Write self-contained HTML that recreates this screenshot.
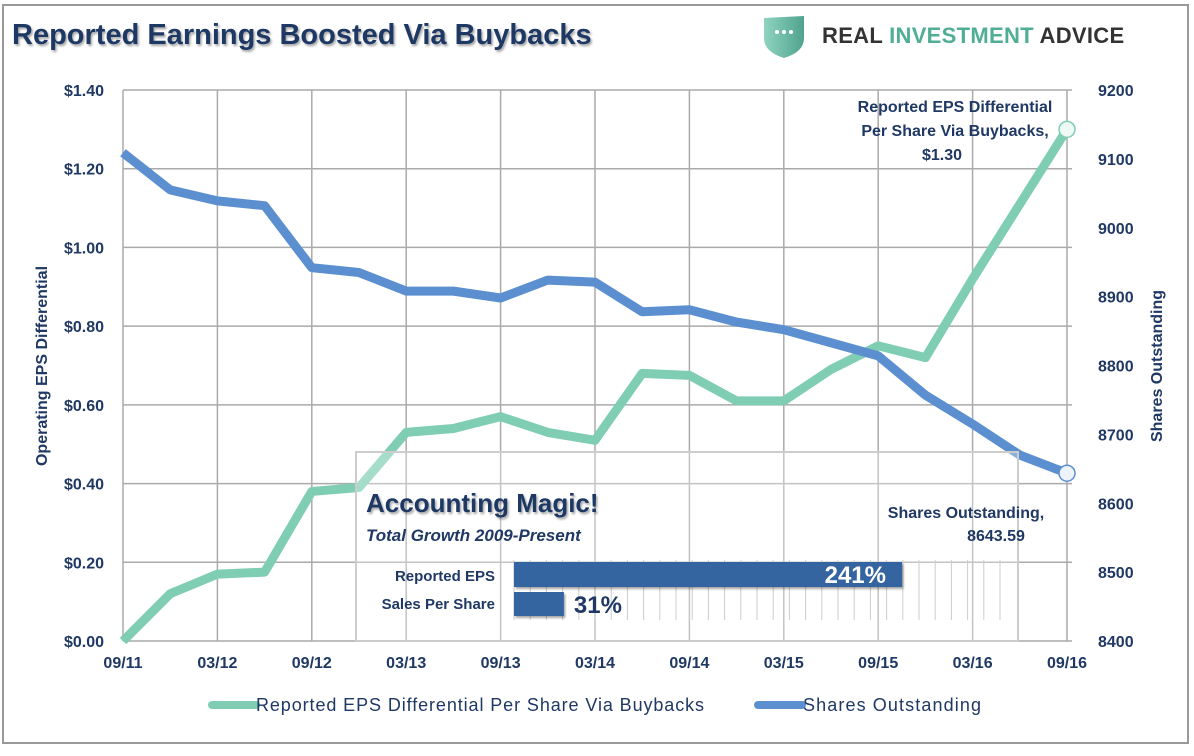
<!DOCTYPE html>
<html><head><meta charset="utf-8"><style>
body{margin:0;background:#fff;}
svg text{font-family:"Liberation Sans",sans-serif;}
</style></head><body>
<svg width="1194" height="751" xmlns="http://www.w3.org/2000/svg">
<defs>
<filter id="sh" x="-5%" y="-20%" width="110%" height="140%"><feDropShadow dx="1.5" dy="2" stdDeviation="1" flood-color="#000" flood-opacity="0.35"/></filter>
<linearGradient id="shield" x1="0" x2="1"><stop offset="0" stop-color="#8fd4c0"/><stop offset="1" stop-color="#4fa38d"/></linearGradient>
</defs>
<rect x="3" y="5" width="1185" height="738" fill="#fff" stroke="#999" stroke-width="2"/>
<text x="12" y="44" font-size="29" font-weight="bold" fill="#1f3864" filter="url(#sh)">Reported Earnings Boosted Via Buybacks</text>
<g>
<path d="M764,18 L804,16 L804,38 Q804,52 784,58 Q764,52 764,38 Z" fill="url(#shield)"/>
<circle cx="777" cy="32" r="2" fill="#fff"/><circle cx="784" cy="32" r="2" fill="#fff"/><circle cx="791" cy="32" r="2" fill="#fff"/>
<text x="822" y="43" font-size="22" font-weight="bold" fill="#333" letter-spacing="0.3">REAL <tspan fill="#4fae94">INVESTMENT</tspan> ADVICE</text>
</g>
<g id="grid"></g>
<g id="axes"></g>
<g id="series"></g>
<g>
<rect x="356" y="452" width="662" height="189" fill="#fff" fill-opacity="0.3" stroke="#ccc" stroke-width="2"/>
<g id="insetticks"></g>
<text x="366" y="512" font-size="26" font-weight="bold" fill="#1f3864" filter="url(#sh)">Accounting Magic!</text>
<text x="366" y="541" font-size="17" font-weight="bold" font-style="italic" fill="#1f3864">Total Growth 2009-Present</text>
<text x="495" y="581" font-size="15" font-weight="bold" fill="#1f3864" text-anchor="end">Reported EPS</text>
<text x="495" y="609" font-size="15" font-weight="bold" fill="#1f3864" text-anchor="end">Sales Per Share</text>
<g id="insetbars"></g>
</g>
<text x="955" y="112" font-size="16" font-weight="bold" fill="#1f3864" text-anchor="middle"><tspan x="955">Reported EPS Differential</tspan><tspan x="955" dy="24">Per Share Via Buybacks,</tspan><tspan x="942" dy="24">$1.30</tspan></text>
<text x="966" y="518" font-size="16" font-weight="bold" fill="#1f3864" text-anchor="middle"><tspan x="966">Shares Outstanding,</tspan><tspan x="996" dy="23">8643.59</tspan></text>
<g>
<line x1="212" y1="705" x2="256" y2="705" stroke="#7fcdb3" stroke-width="8" stroke-linecap="round"/>
<text x="256" y="711" font-size="18" fill="#1f3864" textLength="448">Reported EPS Differential Per Share Via Buybacks</text>
<line x1="758" y1="705" x2="802" y2="705" stroke="#5b8fd0" stroke-width="8" stroke-linecap="round"/>
<text x="803" y="711" font-size="18" fill="#1f3864" textLength="178">Shares Outstanding</text>
</g>
</svg>
<script>
const xLabels=["09/11","03/12","09/12","03/13","09/13","03/14","09/14","03/15","09/15","03/16","09/16"];
const leftTicks=[0,0.2,0.4,0.6,0.8,1.0,1.2,1.4];
const rightTicks=[8400,8500,8600,8700,8800,8900,9000,9100,9200];
const epsDiff=[0.00,0.12,0.17,0.175,0.38,0.39,0.53,0.54,0.57,0.53,0.51,0.68,0.675,0.61,0.61,0.69,0.75,0.72,0.92,1.11,1.30];
const shares=[9109,9055,9039,9032,8942,8935,8908,8908,8898,8924,8921,8878,8881,8863,8852,8833,8814,8757,8715,8670,8643.59];
const insetCats=["Reported EPS","Sales Per Share"];
const insetVals=[241,31];
const NS="http://www.w3.org/2000/svg";
const X0=123,X1=1067,YT=90,YB=641;
const n=epsDiff.length;
const xq=i=>X0+(X1-X0)*i/(n-1);
const yL=v=>YB-(YB-YT)*v/1.4;
const yR=v=>YB-(YB-YT)*(v-8400)/800;
function mk(tag,attrs,parent){const e=document.createElementNS(NS,tag);for(const k in attrs)e.setAttribute(k,attrs[k]);parent.appendChild(e);return e;}
const grid=document.getElementById('grid'),axes=document.getElementById('axes'),ser=document.getElementById('series');
leftTicks.forEach(v=>{
 const l=mk('line',{x1:X0,x2:X1+5,y1:yL(v),y2:yL(v),stroke:'#aaa','stroke-width':1.5},grid);
 
 
 const t=mk('text',{x:104,y:yL(v)+6,'font-size':16,'font-weight':'bold',fill:'#1f3864','text-anchor':'end'},axes);
 t.textContent='$'+v.toFixed(2);
 
 
});
rightTicks.forEach(v=>{
 const t=mk('text',{x:1098,y:yR(v)+6,'font-size':16,'font-weight':'bold',fill:'#1f3864'},axes);
 t.textContent=v;
 
 
});
xLabels.forEach((s,i)=>{
 const x=X0+(X1-X0)*i/(xLabels.length-1);
 const l=mk('line',{x1:x,x2:x,y1:YT,y2:YB,stroke:'#aaa','stroke-width':1.5},grid);
 
 
 const t=mk('text',{x:x,y:668,'font-size':16,'font-weight':'bold',fill:'#1f3864','text-anchor':'middle'},axes);
 t.textContent=s;
 
 
});
const yt=mk('text',{transform:'translate(47,366) rotate(-90)','font-size':16,'font-weight':'bold',fill:'#1f3864','text-anchor':'middle'},axes);
yt.textContent='Operating EPS Differential';


const yt2=mk('text',{transform:'translate(1162,366) rotate(-90)','font-size':16,'font-weight':'bold',fill:'#1f3864','text-anchor':'middle'},axes);
yt2.textContent='Shares Outstanding';


const pEps=mk('polyline',{points:epsDiff.map((v,i)=>xq(i)+','+yL(v)).join(' '),fill:'none',stroke:'#7fcdb3','stroke-width':9,'stroke-linejoin':'round'},ser);


const pSh=mk('polyline',{points:shares.map((v,i)=>xq(i)+','+yR(v)).join(' '),fill:'none',stroke:'#5b8fd0','stroke-width':9,'stroke-linejoin':'round'},ser);


const m1=mk('circle',{cx:xq(n-1),cy:yL(epsDiff[n-1]),r:8,fill:'#eefaf5',stroke:'#7fcdb3','stroke-width':1.5},ser);


const m2=mk('circle',{cx:xq(n-1),cy:yR(shares[n-1]),r:8,fill:'#eef3fa',stroke:'#5b8fd0','stroke-width':1.5},ser);


const it=document.getElementById('insetticks');
for(let x=514;x<=1005;x+=16.2){const l=mk('line',{x1:x,x2:x,y1:560,y2:620,stroke:'#ccc','stroke-width':1},it);
 
 }
const ib=document.getElementById('insetbars');
const bx=v=>514+388*v/241;
insetVals.forEach((v,i)=>{
 const y=i===0?562:592;
 const r=mk('rect',{x:514,y:y,width:bx(v)-514,height:i===0?25:24,fill:'#3465a0',filter:'url(#sh)'},ib);
 
 
 const t=mk('text',{x:i===0?bx(v)-16:bx(v)+10,y:y+21,'font-size':24,'font-weight':'bold',fill:i===0?'#fff':'#1f3864','text-anchor':i===0?'end':'start'},ib);
 t.textContent=v+'%';
 
 
});
</script>
</body></html>
